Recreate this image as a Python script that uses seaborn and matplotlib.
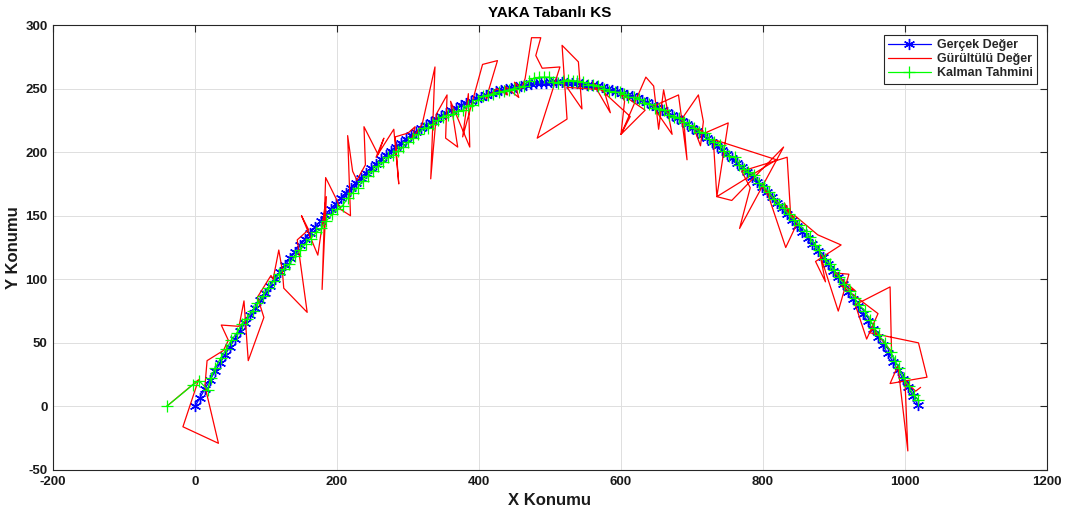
import matplotlib
matplotlib.use("Agg")
import matplotlib.pyplot as plt
import seaborn as sns
import pandas as pd

# ---------------- data ----------------
true_x = [0.0, 7.1, 14.1, 21.2, 28.3, 35.4, 42.4, 49.5, 56.6, 63.6, 70.7, 77.8, 84.9, 91.9, 99.0,
          106.1, 113.1, 120.2, 127.3, 134.4, 141.4, 148.5, 155.6, 162.6, 169.7, 176.8, 183.8, 190.9,
          198.0, 205.1, 212.1, 219.2, 226.3, 233.3, 240.4, 247.5, 254.6, 261.6, 268.7, 275.8, 282.8,
          289.9, 297.0, 304.1, 311.1, 318.2, 325.3, 332.3, 339.4, 346.5, 353.6, 360.6, 367.7, 374.8,
          381.8, 388.9, 396.0, 403.1, 410.1, 417.2, 424.3, 431.3, 438.4, 445.5, 452.6, 459.6, 466.7,
          473.8, 480.8, 487.9, 495.0, 502.0, 509.1, 516.2, 523.3, 530.3, 537.4, 544.5, 551.5, 558.6,
          565.7, 572.8, 579.8, 586.9, 594.0, 601.0, 608.1, 615.2, 622.3, 629.3, 636.4, 643.5, 650.5,
          657.6, 664.7, 671.8, 678.8, 685.9, 693.0, 700.0, 707.1, 714.2, 721.3, 728.3, 735.4, 742.5,
          749.5, 756.6, 763.7, 770.8, 777.8, 784.9, 792.0, 799.0, 806.1, 813.2, 820.2, 827.3, 834.4,
          841.5, 848.5, 855.6, 862.7, 869.7, 876.8, 883.9, 891.0, 898.0, 905.1, 912.2, 919.2, 926.3,
          933.4, 940.5, 947.5, 954.6, 961.7, 968.7, 975.8, 982.9, 990.0, 997.0, 1004.1, 1011.2, 1018.2]
true_y = [0.0, 7.0, 14.0, 20.8, 27.5, 34.1, 40.7, 47.1, 53.4, 59.7, 65.8, 71.9, 77.8, 83.6, 89.4,
          95.0, 100.6, 106.0, 111.4, 116.6, 121.8, 126.9, 131.8, 136.7, 141.5, 146.1, 150.7, 155.2,
          159.5, 163.8, 168.0, 172.1, 176.1, 179.9, 183.7, 187.4, 191.0, 194.5, 197.9, 201.2, 204.4,
          207.5, 210.5, 213.4, 216.2, 218.9, 221.5, 224.0, 226.4, 228.7, 230.9, 233.0, 235.1, 237.0,
          238.8, 240.5, 242.2, 243.7, 245.1, 246.5, 247.7, 248.8, 249.9, 250.8, 251.6, 252.4, 253.0,
          253.6, 254.0, 254.4, 254.6, 254.8, 254.8, 254.8, 254.7, 254.4, 254.1, 253.7, 253.1, 252.5,
          251.8, 250.9, 250.0, 249.0, 247.9, 246.7, 245.3, 243.9, 242.4, 240.8, 239.1, 237.3, 235.4,
          233.4, 231.3, 229.1, 226.8, 224.4, 221.9, 219.3, 216.6, 213.8, 210.9, 208.0, 204.9, 201.7,
          198.4, 195.0, 191.6, 188.0, 184.3, 180.5, 176.7, 172.7, 168.7, 164.5, 160.2, 155.9, 151.4,
          146.9, 142.2, 137.5, 132.6, 127.7, 122.6, 117.5, 112.2, 106.9, 101.5, 95.9, 90.3, 84.6,
          78.7, 72.8, 66.8, 60.7, 54.4, 48.1, 41.7, 35.2, 28.6, 21.9, 15.1, 8.2, 1.1]

noisy_x = [-40, 5, -17, 33, 14, 17, 40, 47, 37, 62, 69, 75, 97, 88, 107, 110, 118, 123, 125, 158,
           144, 160, 150, 173, 185, 179, 184, 200, 205, 219, 215, 222, 228, 240, 238, 258, 266, 255,
           280, 287, 282, 300, 310, 305, 320, 338, 332, 340, 345, 355, 353, 370, 360, 387, 385, 377,
           405, 426, 410, 425, 440, 436, 456, 450, 460, 465, 474, 487, 480, 489, 514, 482, 524, 517,
           540, 545, 524, 576, 585, 560, 570, 613, 600, 634, 600, 605, 600, 635, 646, 653, 660, 672,
           645, 681, 693, 688, 709, 716, 712, 702, 718, 751, 735, 730, 819, 735, 756, 829, 767, 782,
           770, 834, 839, 800, 808, 832, 848, 830, 840, 845, 877, 910, 874, 888, 880, 906, 921, 900,
           930, 910, 962, 946, 930, 979, 981, 955, 950, 1019, 1031, 979, 990, 1004, 1000, 1015, 1022]
noisy_y = [0, 21, -16, -29, 16, 36, 44, 52, 64, 63, 83, 36, 70, 86, 103, 100, 123, 107, 93, 74,
           131, 139, 150, 119, 165, 92, 180, 162, 155, 150, 213, 185, 178, 190, 220, 198, 211, 196,
           218, 175, 212, 215, 220, 210, 222, 267, 179, 230, 235, 245, 211, 204, 240, 204, 246, 212,
           269, 272, 242, 250, 245, 252, 243, 255, 250, 258, 290, 290, 276, 266, 267, 211, 226, 284,
           271, 234, 251, 249, 231, 255, 250, 228, 214, 233, 246, 240, 214, 259, 252, 218, 249, 214,
           236, 245, 194, 228, 245, 224, 205, 220, 215, 223, 165, 210, 194, 165, 162, 204, 140, 172,
           185, 196, 150, 172, 165, 125, 144, 160, 148, 150, 135, 127, 114, 98, 120, 75, 104, 105,
           91, 95, 73, 53, 80, 94, 43, 61, 58, 50, 23, 18, 32, -35, 20, 12, 15]

kalman_x = [-40, -3, 6, 18, 22, 28, 36, 44, 51, 59, 66, 73, 81, 88, 96, 103, 111, 118, 125, 133,
            141, 148, 156, 163, 171, 178, 185, 193, 200, 208, 215, 222, 229, 236, 243, 250, 258, 265,
            272, 279, 286, 293, 300, 307, 314, 322, 328, 335, 342, 349, 356, 363, 370, 377, 384, 390,
            398, 406, 413, 420, 428, 435, 442, 449, 456, 463, 470, 478, 485, 492, 499, 504, 511, 518,
            525, 532, 538, 546, 554, 561, 568, 576, 583, 591, 598, 604, 610, 618, 626, 633, 640, 648,
            654, 661, 668, 675, 682, 689, 696, 703, 710, 718, 724, 731, 740, 745, 752, 761, 766, 773,
            779, 788, 795, 801, 808, 815, 823, 829, 836, 843, 851, 860, 866, 873, 879, 887, 894, 900,
            907, 914, 922, 929, 935, 944, 951, 957, 963, 972, 980, 986, 992, 998, 1005, 1012, 1019]
kalman_y = [0, 17, 20, 13, 22, 30, 38, 45, 52, 58, 65, 69, 75, 81, 87, 93, 99, 104, 108, 112,
            118, 123, 128, 132, 137, 140, 146, 151, 155, 158, 164, 168, 172, 177, 181, 185, 189, 192,
            196, 198, 201, 204, 208, 211, 214, 219, 219, 222, 225, 228, 229, 230, 232, 233, 236, 237,
            241, 244, 245, 246, 247, 248, 249, 250, 251, 252, 256, 258, 259, 259, 259, 255, 254, 256,
            257, 256, 256, 255, 253, 253, 252, 250, 248, 247, 247, 246, 243, 243, 242, 239, 238, 235,
            234, 233, 229, 228, 227, 224, 221, 219, 216, 215, 210, 208, 206, 201, 197, 196, 190, 187,
            184, 182, 176, 173, 169, 163, 159, 156, 151, 147, 143, 138, 133, 127, 123, 116, 112, 107,
            102, 96, 91, 85, 80, 75, 68, 62, 56, 50, 43, 36, 30, 22, 16, 9, 5]

series_labels = ["Gerçek Değer", "Gürültülü Değer", "Kalman Tahmini"]
x_ticks = [-200, 0, 200, 400, 600, 800, 1000, 1200]
y_ticks = [-50, 0, 50, 100, 150, 200, 250, 300]

# ---------------- style ----------------
sns.set_style("white")
plt.rcParams["font.family"] = ["Liberation Sans", "DejaVu Sans"]
plt.rcParams["font.weight"] = "bold"
plt.rcParams["axes.unicode_minus"] = False

fig = plt.figure(figsize=(10.65, 5.13), dpi=100)
ax = fig.add_axes([53 / 1065, 1 - 470 / 513, (1047 - 53) / 1065, (470 - 25) / 513])

df_true = pd.DataFrame({"x": true_x, "y": true_y})
df_noisy = pd.DataFrame({"x": noisy_x, "y": noisy_y})
df_kal = pd.DataFrame({"x": kalman_x, "y": kalman_y})

asterisk = (6, 2, 0)
sns.lineplot(data=df_true, x="x", y="y", sort=False, estimator=None, ax=ax,
             color=(0, 0, 1), linewidth=0.9, marker=asterisk, markersize=8,
             markeredgecolor=(0, 0, 1), markeredgewidth=1.0, label=series_labels[0])
sns.lineplot(data=df_noisy, x="x", y="y", sort=False, estimator=None, ax=ax,
             color=(1, 0, 0), linewidth=0.9, label=series_labels[1])
sns.lineplot(data=df_kal, x="x", y="y", sort=False, estimator=None, ax=ax,
             color=(0, 1, 0), linewidth=0.9, marker="+", markersize=8,
             markeredgecolor=(0, 1, 0), markeredgewidth=0.9, label=series_labels[2])

ax.set_xlim(-200, 1200)
ax.set_ylim(-50, 300)
ax.set_xticks(x_ticks)
ax.set_yticks(y_ticks)
ax.grid(True, color="#dedede", linewidth=0.7)
ax.set_axisbelow(True)
ax.tick_params(direction="in", top=True, right=True, length=5, width=0.8,
               colors="0.15", labelsize=9.5, labelcolor="0.1", pad=4)
for lab in ax.get_xticklabels() + ax.get_yticklabels():
    lab.set_fontweight("bold")
for s in ax.spines.values():
    s.set_color("0.15")
    s.set_linewidth(0.8)

ax.set_title("YAKA Tabanlı KS", fontsize=11, fontweight="bold", pad=6, color="black")
ax.set_xlabel("X Konumu", fontsize=12, fontweight="bold", color="0.1")
ax.set_ylabel("Y Konumu", fontsize=12, fontweight="bold", color="0.1")
ax.xaxis.set_label_coords(0.5, -0.052)
ax.yaxis.set_label_coords(-0.032, 0.5)

leg = ax.legend(loc="upper right", frameon=True, fancybox=False, edgecolor="0.15",
                framealpha=1, fontsize=9, borderaxespad=0.8, handlelength=3.4,
                handletextpad=0.5, labelspacing=0.15, borderpad=0.35, numpoints=1)
leg.get_frame().set_linewidth(0.8)
for t in leg.get_texts():
    t.set_fontweight("bold")

fig.savefig("out.png", dpi=100)
